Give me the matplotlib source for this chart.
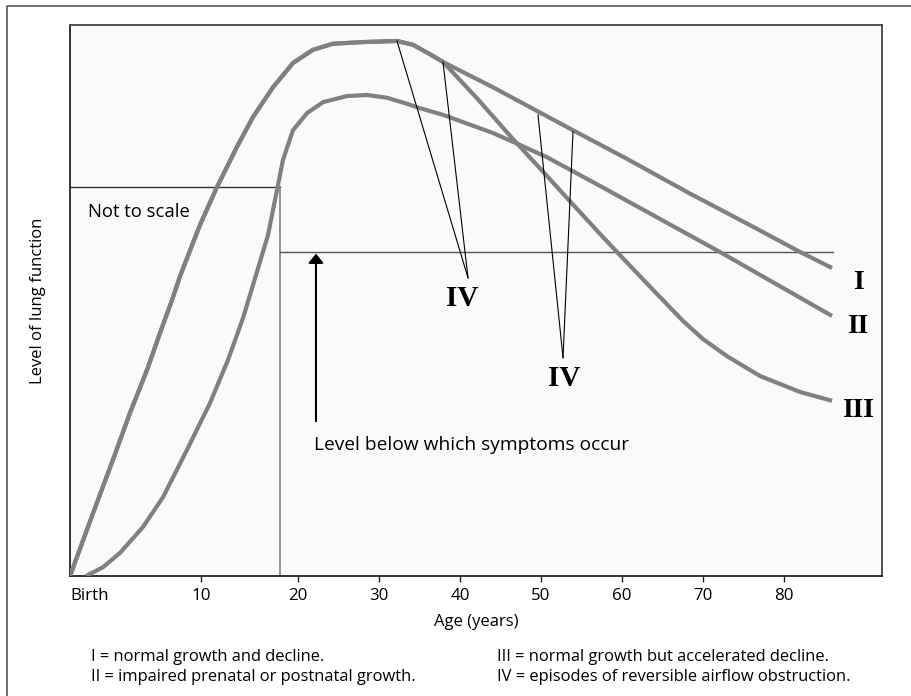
import numpy as np
import matplotlib
matplotlib.use("Agg")
import matplotlib.pyplot as plt
from matplotlib.lines import Line2D

# ---------------- data (age in years, relative level of lung function) ----------------
curve1_age = [0, 1.76, 3.28, 4.58, 5.88, 6.87, 7.79, 8.40, 9.92, 11.65, 13.71, 15.36, 17.42,
              19.48, 21.85, 24.32, 28.02, 32.22, 34.20, 36.05, 37.90, 44.07, 49.51, 53.95,
              60.62, 68.27, 76.67, 82.0, 85.93]
curve1_lvl = [0, 11.4, 21.1, 29.6, 37.4, 44.1, 50.1, 54.4, 63.7, 70.6, 77.9, 83.3, 88.7,
              93.1, 95.5, 96.6, 96.9, 97.1, 96.4, 94.9, 93.3, 88.7, 84.4, 80.9,
              75.7, 69.5, 63.0, 58.8, 55.9]

curve2_age = [1.22, 2.52, 3.82, 5.57, 7.10, 8.93, 10.93, 12.78, 14.33, 15.77, 16.91, 17.84,
              18.45, 19.48, 21.11, 23.09, 26.05, 28.52, 30.99, 33.46, 35.06, 37.90, 44.07,
              46.54, 50.74, 57.28, 67.16, 72.10, 85.93]
curve2_lvl = [0, 1.6, 4.2, 8.9, 14.3, 22.9, 31.4, 39.2, 46.8, 55.2, 61.9, 70.1,
              75.5, 80.9, 84.0, 86.0, 87.1, 87.3, 86.8, 85.7, 84.9, 83.7, 80.4,
              78.8, 76.0, 70.8, 62.8, 58.8, 47.2]

# curve III follows curve I up to the split at 37.9 years
split = 21
curve3_age = curve1_age[:split] + [42.10, 46.54, 50.74, 53.21, 57.28, 59.38, 63.46, 67.53,
                                   70.0, 72.96, 77.04, 81.98, 85.93]
curve3_lvl = curve1_lvl[:split] + [86.7, 79.3, 72.6, 68.6, 62.1, 58.8, 52.5, 46.3,
                                   43.0, 39.9, 36.3, 33.4, 31.8]

# episodes of reversible airflow obstruction (IV): start points on curves and label tips
iv1_start_age = [32.22, 37.90]
iv1_start_lvl = [97.1, 93.3]
iv1_tip = (40.99, 54.1)
iv2_start_age = [49.63, 53.95]
iv2_start_lvl = [83.7, 80.6]
iv2_tip = (52.72, 39.6)

symptom_level = 58.8
symptom_span = (18.14, 86.05)
box_age = 18.14
box_level = 70.6
arrow_age = 22.22
arrow_from = 28.1

xtick_vals = [0, 10, 20, 30, 40, 50, 60, 70, 80]
xtick_labels = ["Birth", "10", "20", "30", "40", "50", "60", "70", "80"]

curve_labels = ["I", "II", "III"]
curve_label_age = [89.2, 89.15, 89.15]
curve_label_lvl = [52.1, 44.1, 28.9]
iv_label_pos = [(40.31, 49.0), (52.90, 34.5)]

footnotes_left = ["I = normal growth and decline.", "II = impaired prenatal or postnatal growth."]
footnotes_right = ["III = normal growth but accelerated decline.", "IV = episodes of reversible airflow obstruction."]

# ---------------- styling ----------------
plt.rcParams['font.family'] = ['Open Sans', 'DejaVu Sans']
GREY = "#808080"
SERIF = ['Liberation Serif', 'DejaVu Serif']


def fwd(a):
    a = np.asarray(a, dtype=float)
    return np.where(a < 10, a * 13.1, np.where(a < 20, 131 + (a - 10) * 9.7, 228 + (a - 20) * 8.1))


def inv(p):
    p = np.asarray(p, dtype=float)
    return np.where(p < 131, p / 13.1, np.where(p < 228, 10 + (p - 131) / 9.7, 20 + (p - 228) / 8.1))


fig = plt.figure(figsize=(9.12, 6.96), dpi=100)
fig.patch.set_facecolor("white")
ax = fig.add_axes([70 / 912, 1 - 576 / 696, 812 / 912, 551 / 696])
ax.set_facecolor("#fafafa")
ax.set_xscale('function', functions=(fwd, inv))
ax.set_xlim(0, 92.1)
ax.set_ylim(0, 100)

# outer frame (top and left only)
fig.add_artist(Line2D([7 / 912, 7 / 912, 1.0], [0.0, 1 - 6 / 696, 1 - 6 / 696],
                      transform=fig.transFigure, color="#555555", lw=1.2))

# spines
for s in ["left", "bottom"]:
    ax.spines[s].set_color("#222222")
    ax.spines[s].set_linewidth(1.3)
for s in ["top", "right"]:
    ax.spines[s].set_color("#444444")
    ax.spines[s].set_linewidth(1.3)

# "not to scale" box and symptom level
ax.plot([0, box_age], [box_level, box_level], color="#333333", lw=1.0, zorder=2)
ax.plot([box_age, box_age], [0, box_level], color="#888888", lw=1.3, zorder=2)
ax.plot(list(symptom_span), [symptom_level, symptom_level], color="#555555", lw=1.0, zorder=2)

# curves
for a, l in [(curve1_age, curve1_lvl), (curve2_age, curve2_lvl), (curve3_age, curve3_lvl)]:
    ax.plot(a, l, color=GREY, lw=3.0, solid_capstyle='butt', solid_joinstyle='round', zorder=3)

# IV lines
for sa, sl, tip in [(iv1_start_age, iv1_start_lvl, iv1_tip), (iv2_start_age, iv2_start_lvl, iv2_tip)]:
    for a, l in zip(sa, sl):
        ax.plot([a, tip[0]], [l, tip[1]], color="black", lw=0.8, zorder=4)

# arrow
ax.annotate("", xy=(arrow_age, symptom_level - 0.3), xytext=(arrow_age, arrow_from),
            arrowprops=dict(arrowstyle="-|>,head_length=0.55,head_width=0.45", color="black", lw=1.5,
                            shrinkA=0, shrinkB=0), zorder=4)

# texts
ax.text(1.37, 65.2, "Not to scale", fontsize=13.3, ha="left", va="baseline")
ax.text(21.98, 22.9, "Level below which symptoms occur", fontsize=13.8, ha="left", va="baseline")
for t, a, l in zip(curve_labels, curve_label_age, curve_label_lvl):
    ax.text(a, l, t, family=SERIF, fontweight="bold", fontsize=20, ha="center", va="baseline")
for (a, l) in iv_label_pos:
    ax.text(a, l, "IV", family=SERIF, fontweight="bold", fontsize=21, ha="center", va="baseline")

# ticks
ax.set_xticks(xtick_vals)
ax.set_xticklabels(xtick_labels)
ax.set_yticks([])
ax.tick_params(axis='x', direction='out', length=4.5, width=1.0, color="#222222", labelsize=12.2, pad=4.5)
ax.xaxis.get_major_ticks()[0].tick1line.set_visible(False)
ax.get_xticklabels()[0].set_ha("left")
ax.xaxis.set_minor_locator(matplotlib.ticker.NullLocator())

ax.set_xlabel("Age (years)", fontsize=12, va="baseline")
ax.xaxis.set_label_coords(0.5, (576 - 626) / 551)
ax.set_ylabel("Level of lung function", fontsize=12, va="center")
ax.yaxis.set_label_coords((38 - 70) / 812, 0.5)

# footnotes
for i, t in enumerate(footnotes_left):
    fig.text(91 / 912, (696 - 661 - 20 * i) / 696, t, fontsize=11.9, ha="left", va="baseline")
for i, t in enumerate(footnotes_right):
    fig.text(497 / 912, (696 - 661 - 20 * i) / 696, t, fontsize=11.9, ha="left", va="baseline")

fig.savefig("out.png", dpi=100)
